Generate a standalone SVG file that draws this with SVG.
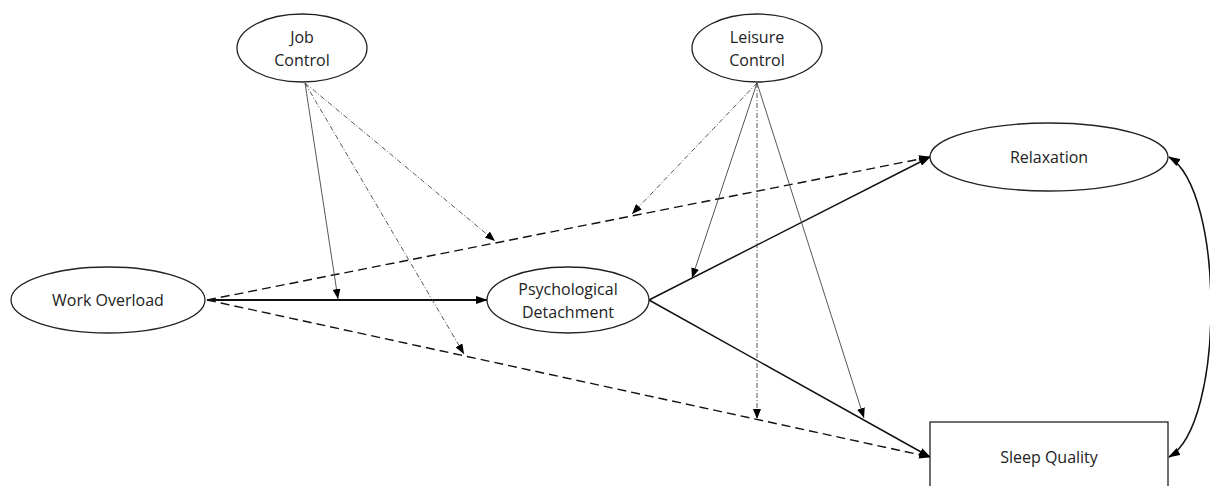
<svg xmlns="http://www.w3.org/2000/svg" width="1210" height="486" viewBox="0 0 1210 486">
<style>
.node{fill:#fff;stroke:#222;stroke-width:1.3}
.lbl{font-family:"Open Sans","Liberation Sans",sans-serif;font-size:16px;fill:#222;text-anchor:middle}
.main{fill:none;stroke:#111;stroke-width:1.5}
.thick{fill:none;stroke:#111;stroke-width:2}
.dash{fill:none;stroke:#111;stroke-width:1.4;stroke-dasharray:9 5}
.thin{fill:none;stroke:#444;stroke-width:0.9}
.dd{fill:none;stroke:#444;stroke-width:0.9;stroke-dasharray:5 2 1 2}
</style>
<defs>
<marker id="ah" markerUnits="userSpaceOnUse" markerWidth="12" markerHeight="8" refX="11" refY="4" orient="auto-start-reverse" viewBox="0 0 12 8">
<path d="M0,0 L12,4 L0,8 z" fill="#000"/>
</marker>
<marker id="as" markerUnits="userSpaceOnUse" markerWidth="10" markerHeight="8" refX="10" refY="4" orient="auto" viewBox="0 0 10 8">
<path d="M0,0 L10,4 L0,8 z" fill="#000"/>
</marker>
</defs>
<g id="connectors">
<line class="thick" x1="207" y1="300" x2="487" y2="300" marker-end="url(#ah)"/>
<line class="dash" x1="207" y1="300" x2="930" y2="157" marker-end="url(#ah)"/>
<line class="dash" x1="207" y1="300" x2="930" y2="457" marker-end="url(#ah)"/>
<line class="main" x1="649" y1="300" x2="930" y2="157" marker-end="url(#ah)"/>
<line class="main" x1="649" y1="300" x2="930" y2="457" marker-end="url(#ah)"/>
<line class="thin" x1="305" y1="83" x2="338" y2="299" marker-end="url(#as)"/>
<line class="dd" x1="305" y1="83" x2="464" y2="354" marker-end="url(#as)"/>
<line class="dd" x1="305" y1="83" x2="495" y2="241" marker-end="url(#as)"/>
<line class="dd" x1="757" y1="83" x2="632" y2="214" marker-end="url(#as)"/>
<line class="thin" x1="757" y1="83" x2="692" y2="278" marker-end="url(#as)"/>
<line class="dd" x1="757" y1="83" x2="757" y2="419" marker-end="url(#as)"/>
<line class="thin" x1="757" y1="83" x2="864" y2="418" marker-end="url(#as)"/>
<path class="main" d="M1169,157 C1225,190 1225,425 1169,457" marker-start="url(#ah)" marker-end="url(#ah)"/>
</g>
<g id="job-control">
<ellipse class="node" cx="302" cy="48" rx="65" ry="34"/>
<text class="lbl" x="302" y="43">Job</text>
<text class="lbl" x="302" y="66">Control</text>
</g>
<g id="leisure-control">
<ellipse class="node" cx="757" cy="48" rx="65" ry="34"/>
<text class="lbl" x="757" y="43">Leisure</text>
<text class="lbl" x="757" y="66">Control</text>
</g>
<g id="work-overload">
<ellipse class="node" cx="108" cy="300" rx="97" ry="33"/>
<text class="lbl" x="108" y="306">Work Overload</text>
</g>
<g id="psychological-detachment">
<ellipse class="node" cx="568" cy="300" rx="81" ry="33"/>
<text class="lbl" x="568" y="295">Psychological</text>
<text class="lbl" x="568" y="318">Detachment</text>
</g>
<g id="relaxation">
<ellipse class="node" cx="1049" cy="157" rx="119" ry="34"/>
<text class="lbl" x="1049" y="163">Relaxation</text>
</g>
<g id="sleep-quality">
<rect class="node" x="930" y="422" width="238" height="72"/>
<text class="lbl" x="1049" y="463">Sleep Quality</text>
</g>
</svg>
